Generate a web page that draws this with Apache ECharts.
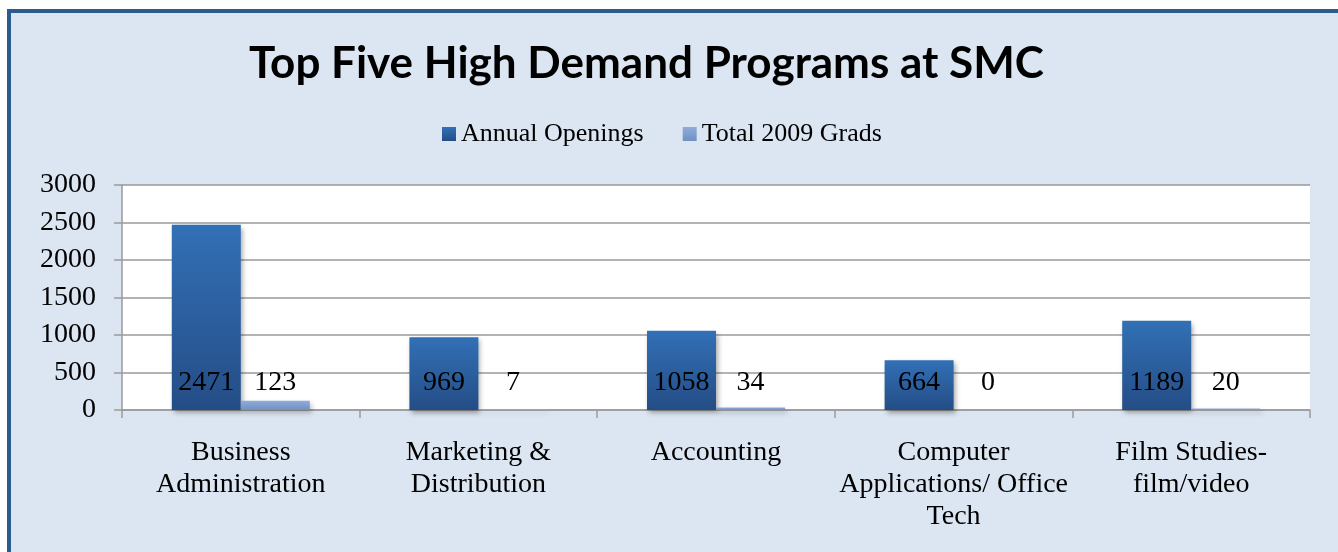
<!DOCTYPE html>
<html>
<head>
<meta charset="utf-8">
<script src="https://cdn.jsdelivr.net/npm/echarts@6/dist/echarts.min.js"></script>
<style>
  html, body { margin: 0; padding: 0; background: #ffffff; }
  #frame { position: absolute; left: 7px; top: 9px; width: 1340px; height: 560px;
           box-sizing: border-box; border: 4px solid #2c5b8e; background: #dce6f2; }
  #chart { position: absolute; left: 0; top: 0; width: 1338px; height: 552px; }
</style>
</head>
<body>
<div id="frame"></div>
<div id="chart"></div>
<script>
const titleText = 'Top Five High Demand Programs at SMC';
const categories = ['Business\nAdministration', 'Marketing &\nDistribution', 'Accounting', 'Computer\nApplications/ Office\nTech', 'Film Studies-\nfilm/video'];
const seriesNames = ['Annual Openings', 'Total 2009 Grads'];
const annualOpenings = [2471, 969, 1058, 664, 1189];
const totalGrads = [123, 7, 34, 0, 20];
const yTicks = { min: 0, max: 3000, interval: 500 };

const serif = '"Liberation Serif", "DejaVu Serif", serif';
const chart = echarts.init(document.getElementById('chart'), null, { renderer: 'canvas' });

function grad(top, bottom) {
  return new echarts.graphic.LinearGradient(0, 0, 0, 1, [
    { offset: 0, color: top }, { offset: 1, color: bottom }
  ]);
}

const labelCfg = {
  show: true, position: 'insideBottom', distance: 13,
  color: '#000', fontFamily: serif, fontSize: 28, lineHeight: 28
};

chart.setOption({
  backgroundColor: 'transparent',
  animation: false,
  title: {
    text: titleText, left: 244, top: 37,
    textStyle: { fontFamily: 'Lato, "Open Sans", sans-serif', fontWeight: 'bold', fontSize: 44, color: '#000' }
  },
  legend: {
    data: seriesNames, left: 437, top: 116, icon: 'rect', itemWidth: 14, itemHeight: 14, itemGap: 39,
    textStyle: { fontFamily: serif, fontSize: 26, color: '#000' }
  },
  grid: { left: 122, right: 28, top: 185, bottom: 142, show: true, backgroundColor: '#ffffff', borderWidth: 0 },
  xAxis: {
    type: 'category', data: categories,
    axisLine: { lineStyle: { color: '#9a9a9a', width: 1.5 } },
    axisTick: { show: true, length: 8, lineStyle: { color: '#9a9a9a', width: 1.5 } },
    axisLabel: { interval: 0, margin: 27, fontFamily: serif, fontSize: 28, lineHeight: 32, color: '#000' }
  },
  yAxis: {
    type: 'value', min: yTicks.min, max: yTicks.max, interval: yTicks.interval,
    axisLine: { show: true, lineStyle: { color: '#9a9a9a', width: 1.5 } },
    axisTick: { show: true, length: 8, lineStyle: { color: '#9a9a9a', width: 1.5 } },
    splitLine: { lineStyle: { color: '#9a9a9a', width: 1.5 } },
    axisLabel: { margin: 26, fontFamily: serif, fontSize: 28, color: '#000', formatter: v => String(v) }
  },
  series: [
    {
      name: seriesNames[0], type: 'bar', data: annualOpenings, barWidth: 69, barGap: '0%',
      itemStyle: { color: grad('#3270b6', '#244d86'), shadowBlur: 5, shadowOffsetX: 2, shadowOffsetY: 3, shadowColor: 'rgba(0,0,0,0.35)' },
      label: labelCfg
    },
    {
      name: seriesNames[1], type: 'bar', data: totalGrads, barWidth: 69,
      itemStyle: { color: grad('#8fabd9', '#7091c3'), shadowBlur: 5, shadowOffsetX: 2, shadowOffsetY: 3, shadowColor: 'rgba(0,0,0,0.25)' },
      label: labelCfg
    }
  ]
});
</script>
</body>
</html>
